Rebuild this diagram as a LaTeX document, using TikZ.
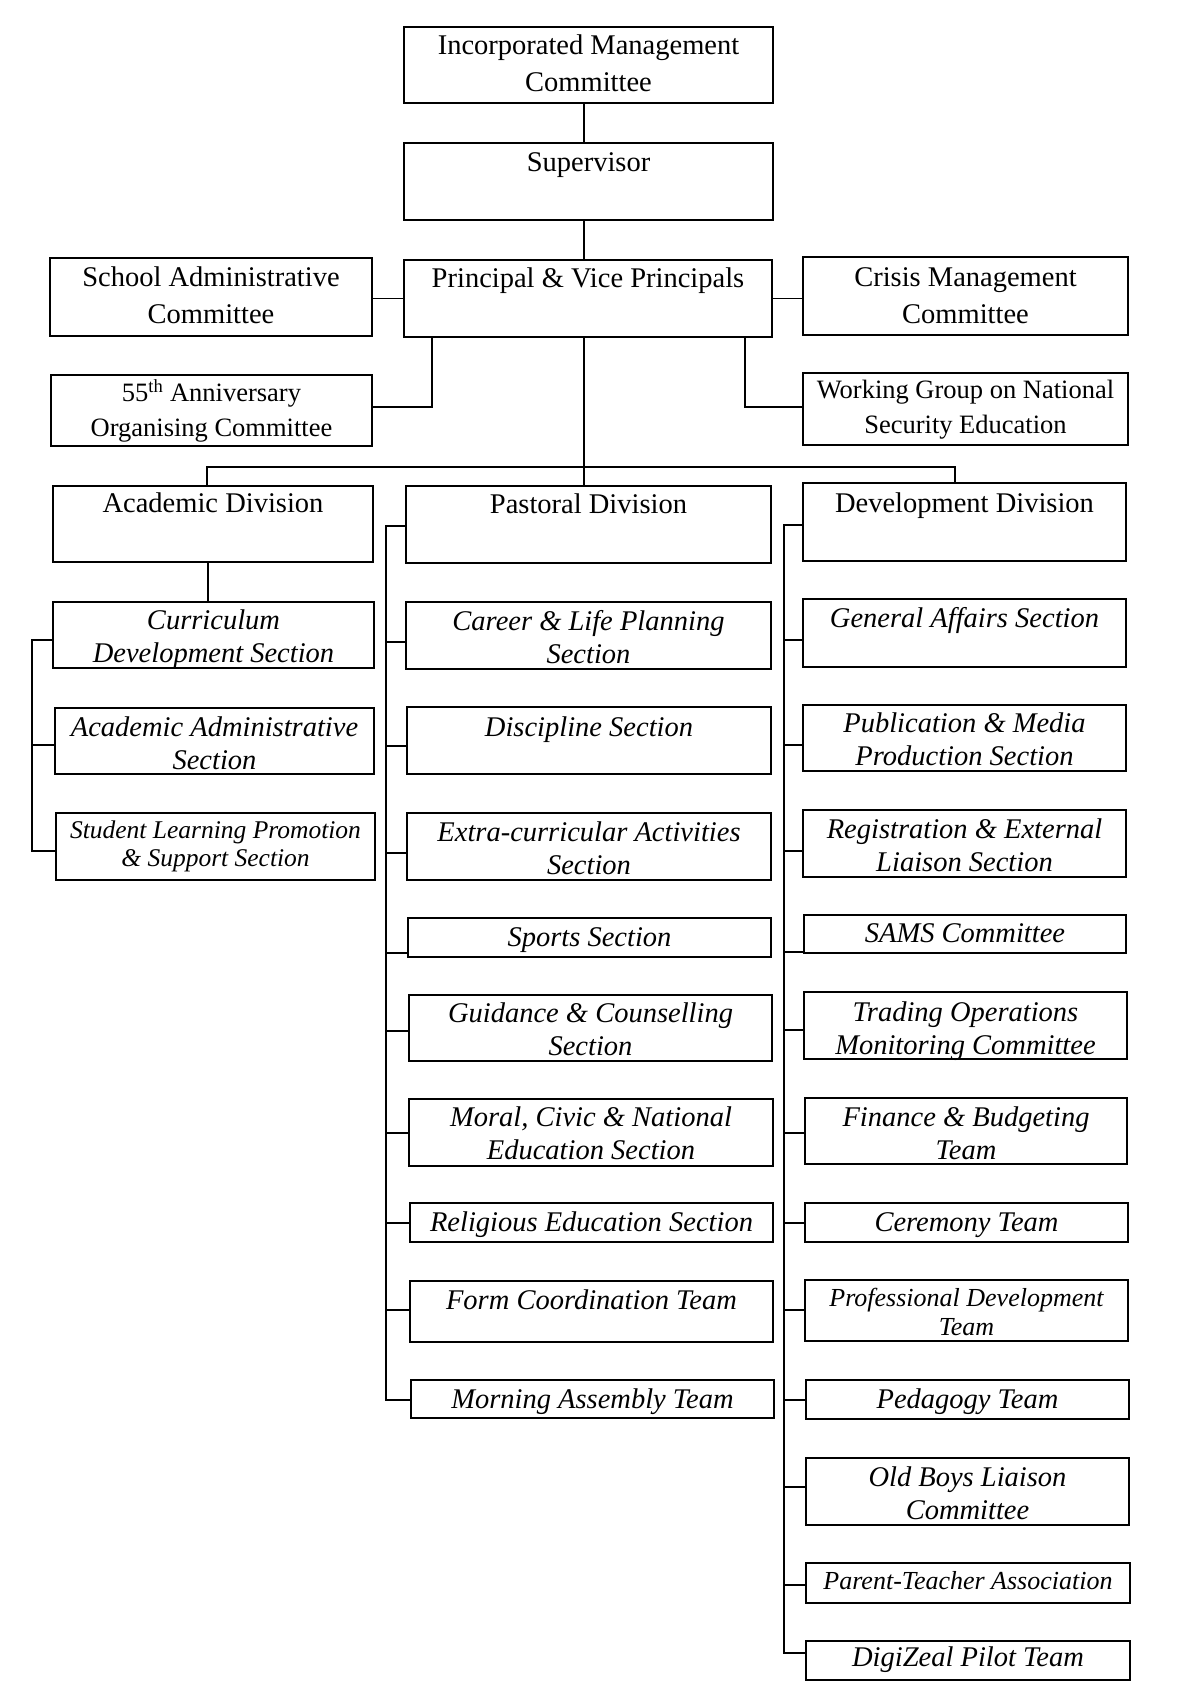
\documentclass[tikz,border=0pt]{standalone}
\usepackage{fontspec}
\setmainfont{Liberation Serif}
\usetikzlibrary{fit}
\tikzset{
  box/.style={draw, line width=2pt, inner sep=0pt, rectangle},
  conn/.style={line width=1.8pt},
  tU/.style={font=\fontsize{28.5}{37}\selectfont, yshift=16.5pt},
  tUS/.style={font=\fontsize{26.5}{35}\selectfont, yshift=15.8pt},
  tI/.style={font=\fontsize{28.5}{32.5}\selectfont\itshape, yshift=13.3pt},
  tIS/.style={font=\fontsize{26}{29}\selectfont\itshape, yshift=11.7pt},
  tISS/.style={font=\fontsize{25.5}{28}\selectfont\itshape, yshift=11.2pt},
  lbl/.style={align=center, inner sep=0pt, anchor=north}
}
\newcommand\obox[8]{%
  \node[box, fit={(#2,#3) (#4,#5)}] (#1) {};
  \node[lbl, #6] (#1-t) at ({(#2+#4)/2},#7) {\strut #8};
}
\begin{document}
\begin{tikzpicture}[x=1pt,y=-1pt]
\fill[white] (0,0) rectangle (1180,1700);
\useasboundingbox (0,0) rectangle (1180,1700);

% top
\obox{imc}{404}{27}{773}{103}{tU}{45}{Incorporated Management\\Committee}
\obox{sup}{404}{143}{773}{220}{tU}{162}{Supervisor}
\obox{pr}{404}{260}{772}{337}{tU}{278}{Principal \& Vice Principals}
\obox{sac}{50}{258}{372}{336}{tU}{277}{School Administrative\\Committee}
\obox{cmc}{803}{257}{1128}{335}{tU}{277}{Crisis Management\\Committee}
\obox{ann}{51}{375}{372}{446}{tUS}{393}{55\textsuperscript{th} Anniversary\\Organising Committee}
\obox{wg}{803}{373}{1128}{445}{tUS}{390}{Working Group on National\\Security Education}

% divisions
\obox{ac}{53}{486}{373}{562}{tU}{503}{Academic Division}
\obox{pas}{406}{486}{771}{563}{tU}{504}{Pastoral Division}
\obox{dv}{803}{483}{1126}{561}{tU}{503}{Development Division}

% academic
\obox{cur}{53}{602}{374}{668}{tI}{620}{Curriculum\\Development Section}
\obox{aad}{55}{708}{374}{774}{tI}{727}{Academic Administrative\\Section}
\obox{slp}{56}{813}{375}{880}{tISS}{830}{Student Learning Promotion\\\& Support Section}

% pastoral
\obox{car}{406}{602}{771}{669}{tI}{621}{Career \& Life Planning\\Section}
\obox{dis}{407}{707}{771}{774}{tI}{727}{Discipline Section}
\obox{eca}{407}{813}{771}{880}{tI}{832}{Extra-curricular Activities\\Section}
\obox{spo}{408}{918}{771}{957}{tI}{937}{Sports Section}
\obox{gui}{409}{995}{772}{1061}{tI}{1013}{Guidance \& Counselling\\Section}
\obox{mor}{409}{1099}{773}{1166}{tI}{1117}{Moral, Civic \& National\\Education Section}
\obox{rel}{410}{1203}{773}{1242}{tI}{1222}{Religious Education Section}
\obox{frm}{410}{1281}{773}{1342}{tI}{1300}{Form Coordination Team}
\obox{mas}{411}{1380}{774}{1418}{tI}{1399}{Morning Assembly Team}

% development
\obox{gen}{803}{599}{1126}{667}{tI}{618}{General Affairs Section}
\obox{pub}{803}{705}{1126}{771}{tI}{723}{Publication \& Media\\Production Section}
\obox{reg}{803}{810}{1126}{877}{tI}{829}{Registration \& External\\Liaison Section}
\obox{sams}{804}{915}{1126}{953}{tI}{933}{SAMS Committee}
\obox{tra}{804}{992}{1127}{1059}{tI}{1012}{Trading Operations\\Monitoring Committee}
\obox{fin}{805}{1098}{1127}{1164}{tI}{1117}{Finance \& Budgeting\\Team}
\obox{cer}{805}{1203}{1128}{1242}{tI}{1222}{Ceremony Team}
\obox{pro}{805}{1280}{1128}{1341}{tIS}{1298}{Professional Development\\Team}
\obox{ped}{806}{1380}{1129}{1419}{tI}{1399}{Pedagogy Team}
\obox{obl}{806}{1458}{1129}{1525}{tI}{1477}{Old Boys Liaison\\Committee}
\obox{pta}{806}{1563}{1130}{1603}{tIS}{1581}{Parent-Teacher Association}
\obox{dig}{806}{1641}{1130}{1680}{tI}{1657}{DigiZeal Pilot Team}

% connectors
\coordinate (trunk) at (584,0);
\draw[conn] (imc.south -| trunk) -- (sup.north -| trunk);
\draw[conn] (sup.south -| trunk) -- (pr.north -| trunk);
\draw[conn] (pr.west -| sac.east) -- (pr.west);
\draw[conn] (pr.east) -- (pr.east -| cmc.west);
\coordinate (annj) at (432,407);
\draw[conn] (pr.south -| annj) -- (annj) -- (annj -| ann.east);
\coordinate (wgj) at (745,407);
\draw[conn] (pr.south -| wgj) -- (wgj) -- (wgj -| wg.west);
\draw[conn] (pr.south -| trunk) -- (pas.north -| trunk);
\coordinate (busL) at (207,467);
\coordinate (busR) at (955,467);
\draw[conn] (ac.north -| busL) -- (busL) -- (busR) -- (dv.north -| busR);
\coordinate (acj) at (208,0);
\draw[conn] (ac.south -| acj) -- (cur.north -| acj);

% academic bracket
\coordinate (a1) at (32,640);
\coordinate (a2) at (32,745);
\coordinate (a3) at (32,851);
\draw[conn] (cur.west |- a1) -- (a1) -- (a3) -- (slp.west |- a3);
\draw[conn] (a2) -- (aad.west |- a2);

% pastoral column
\coordinate (ptop) at (386,526);
\coordinate (pbot) at (386,1400);
\draw[conn] (pas.west |- ptop) -- (ptop) -- (pbot) -- (mas.west |- pbot);
\foreach \n/\y in {car/642,dis/746,eca/853,spo/953,gui/1031,mor/1133,rel/1223,frm/1310}{
  \draw[conn] (386,\y) -- (\n.west |- 386,\y);
}

% development column
\coordinate (dtop) at (784,525);
\coordinate (dbot) at (784,1653);
\draw[conn] (dv.west |- dtop) -- (dtop) -- (dbot) -- (dig.west |- dbot);
\foreach \n/\y in {gen/640,pub/745,reg/851,sams/952,tra/1030,fin/1133,cer/1223,pro/1310,ped/1400,obl/1487,pta/1585}{
  \draw[conn] (784,\y) -- (\n.west |- 784,\y);
}
\end{tikzpicture}
\end{document}
